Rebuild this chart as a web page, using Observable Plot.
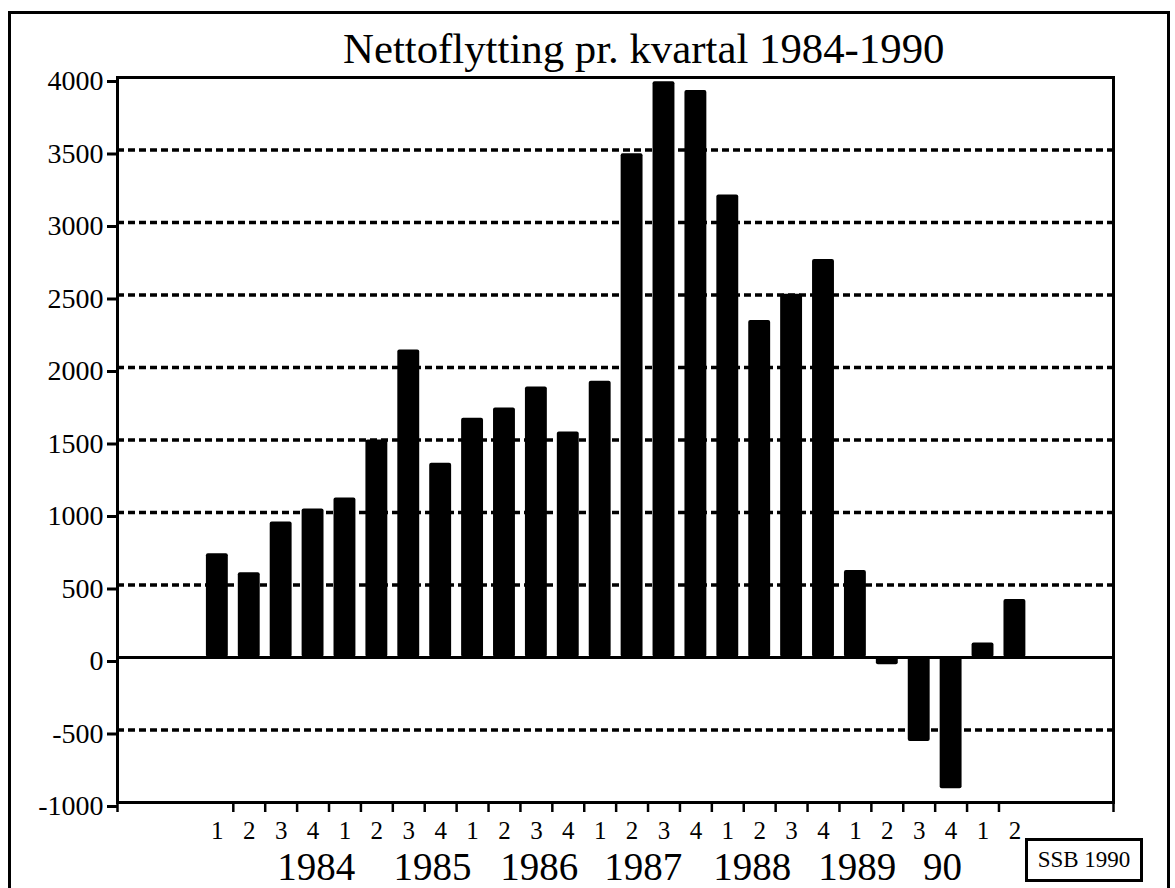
<!DOCTYPE html>
<html>
<head>
<meta charset="utf-8">
<script src="https://cdn.jsdelivr.net/npm/d3@7"></script>
<script src="https://cdn.jsdelivr.net/npm/@observablehq/plot@0.6"></script>
<style>
  html, body { margin: 0; padding: 0; background: #fff; }
  body { width: 1175px; height: 888px; position: relative; overflow: hidden; font-family: "Liberation Serif", "Times New Roman", serif; }
  #frame { position: absolute; left: 8px; top: 11px; width: 1162px; height: 900px; border: 3px solid #000; box-sizing: border-box; pointer-events: none; }
  #title { position: relative; height: 72px; }
  #title span { position: absolute; left: 343px; top: 28px; font-size: 42.8px; line-height: 42px; white-space: nowrap; color: #000; }
  #ssb { position: absolute; left: 1025px; top: 838px; width: 118px; height: 44px; border: 3px solid #000; box-sizing: border-box; font-size: 23px; display: flex; align-items: center; justify-content: center; background: #fff; }
  svg { display: block; }
</style>
</head>
<body>
<div id="title"><span>Nettoflytting pr. kvartal 1984-1990</span></div>
<div id="chart"></div>
<div id="frame"></div>
<div id="ssb">SSB 1990</div>
<script>
const quarters = ["1","2","3","4","1","2","3","4","1","2","3","4","1","2","3","4","1","2","3","4","1","2","3","4","1","2"];
const values = [715, 585, 935, 1025, 1100, 1500, 2120, 1340, 1650, 1720, 1865, 1555, 1905, 3475, 3970, 3910, 3190, 2325, 2505, 2745, 600, -50, -580, -905, 100, 400];
const yTicks = [-1000, -500, 0, 500, 1000, 1500, 2000, 2500, 3000, 3500, 4000];
const gridLines = [-500, 500, 1000, 1500, 2000, 2500, 3000, 3500];
const yearLabels = ["1984", "1985", "1986", "1987", "1988", "1989", "90"];
const yearPos = [3.6, 7.24, 10.59, 13.85, 17.27, 20.56, 23.23];

const xDomain = [-2.63, 28.59];
const table = values.map((v, i) => ({i, value: v, q: quarters[i]}));
const years = yearLabels.map((t, k) => ({t, x: yearPos[k]}));
const boundaryTicks = [xDomain[0], ...d3.range(1, values.length), xDomain[1]];
const font = "Liberation Serif, Times New Roman, serif";

const chart = Plot.plot({
  width: 1175,
  height: 816,
  marginTop: 5,
  marginLeft: 117,
  marginRight: 62,
  marginBottom: 86,
  x: {type: "linear", domain: xDomain, axis: null},
  y: {domain: [-1000, 4000], axis: null},
  style: {fontFamily: font, background: "transparent", overflow: "visible", color: "#000"},
  marks: [
    Plot.ruleY(gridLines, {stroke: "#000", strokeWidth: 3.5, strokeDasharray: "7,4"}),
    Plot.rectY(table, {x1: d => d.i, x2: d => d.i + 1, y1: 0, y2: "value", fill: "#000", insetLeft: 5, insetRight: 5, rx: 2}),
    Plot.ruleY([0], {stroke: "#000", strokeWidth: 3}),
    Plot.frame({stroke: "#000", strokeWidth: 3}),
    Plot.axisY(yTicks, {label: null, tickSize: 10, tickPadding: 4, tickFormat: d => String(d), fontSize: 28, fontFamily: font, strokeWidth: 3, dy: 4, fill: "#000"}),
    Plot.axisX(boundaryTicks, {label: null, tickSize: 10, tickFormat: () => "", strokeWidth: 2.5}),
    Plot.text(table, {x: d => d.i + 0.5, text: "q", frameAnchor: "bottom", lineAnchor: "top", dy: 19, fontSize: 25, fontFamily: font, fill: "#000"}),
    Plot.text(years, {x: "x", text: "t", frameAnchor: "bottom", lineAnchor: "top", dy: 50, fontSize: 39, fontFamily: font, fill: "#000"})
  ]
});
document.getElementById("chart").appendChild(chart);
</script>
</body>
</html>
